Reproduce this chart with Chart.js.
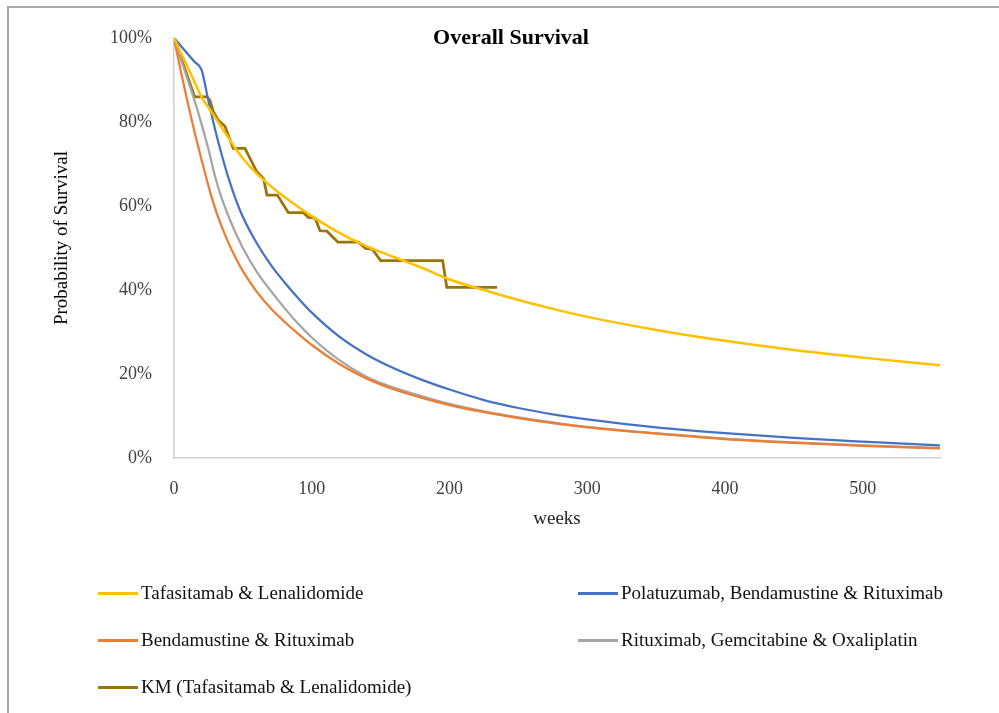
<!DOCTYPE html>
<html>
<head>
<meta charset="utf-8">
<script src="https://cdn.jsdelivr.net/npm/chart.js@4"></script>
<style>
  html, body { margin: 0; padding: 0; background: #fff; }
  #wrap { position: relative; width: 999px; height: 713px; overflow: hidden; }
  #frame { position: absolute; left: 7px; top: 6px; width: 1100px; height: 800px;
           border-left: 2px solid #a8a8a8; border-top: 2px solid #a8a8a8; }
  #chart { position: absolute; left: 0; top: 0; }
  .item { position: absolute; height: 24px; display: flex; align-items: center;
          font: 19px "Liberation Serif", "Times New Roman", serif; color: #111; white-space: nowrap; }
  .item span.swatch { display: inline-block; width: 40px; height: 3px; margin-right: 3px; }
</style>
</head>
<body>
<div id="wrap">
  <div id="frame"></div>
  <canvas id="chart" width="999" height="713"></canvas>
  <div id="legend"></div>
</div>
<script>
// weeks at which the modelled curves were read
const weeks = [0, 5, 10, 15, 20, 25, 30, 35, 40, 45, 50, 60, 70, 80, 90, 100, 120, 140, 160, 180,
               200, 225, 250, 275, 300, 350, 400, 450, 500, 556];

const tafaLen = [100, 96.5, 93, 89.5, 86, 83.5, 81, 78.5, 76, 73.5, 71.3, 67.7, 64.8, 62.2, 59.8, 57.6,
                 53.6, 50.4, 47.8, 45.3, 42.5, 40, 37.6, 35.5, 33.6, 30.5, 27.9, 25.7, 23.9, 22.1];
const polaBR = [100, 98.1, 96.2, 94.3, 92.4, 85, 78, 71.8, 66.2, 61.4, 57.4, 51.2, 46.1, 41.9, 38.1, 34.6,
                28.9, 24.6, 21.3, 18.6, 16.3, 13.8, 11.9, 10.4, 9.2, 7.3, 5.9, 4.8, 3.9, 3.0];
const bendaR = [100, 92, 84.5, 77.5, 71, 64.8, 59.3, 54.8, 50.9, 47.5, 44.5, 39.6, 35.7, 32.5, 29.6, 26.9,
                22.4, 18.9, 16.3, 14.3, 12.6, 10.9, 9.5, 8.3, 7.3, 5.8, 4.5, 3.6, 2.9, 2.3];
const rGemOx = [100, 95, 90, 85, 79.5, 73.5, 66.8, 61.5, 57.2, 53.4, 50, 44.4, 39.9, 35.8, 32, 28.7,
                23.3, 19.3, 16.7, 14.7, 12.9, 11.1, 9.7, 8.5, 7.4, 5.9, 4.6, 3.7, 3.0, 2.4];

// Kaplan-Meier curve (Tafasitamab & Lenalidomide)
const kmWeeks = [0, 15, 24, 26, 28.5, 32, 37, 43, 51.5, 60, 65, 67.5, 75, 83, 94, 97.5, 102.5, 106, 111,
                 119, 134, 139, 144, 150, 195, 198, 234.5];
const kmSurv = [100, 86, 86, 85.2, 82.5, 80.5, 79, 73.7, 73.7, 68.2, 66.5, 62.6, 62.6, 58.4, 58.4, 57.3,
                57.1, 54.1, 54, 51.4, 51.4, 49.9, 49.7, 47, 47, 40.6, 40.6];

const xTicks = [0, 100, 200, 300, 400, 500];
const yTicks = [0, 20, 40, 60, 80, 100];

const toPoints = (xs, ys) => xs.map((x, i) => ({x: x, y: ys[i]}));

function curve(label, values, color, width) {
    return {
        label: label,
        data: toPoints(weeks, values),
        borderColor: color,
        backgroundColor: color,
        borderWidth: width,
        pointRadius: 0,
        cubicInterpolationMode: 'monotone'
    };
}

const datasets = [
    curve('Tafasitamab & Lenalidomide', tafaLen, '#ffc000', 2.5),
    curve('Polatuzumab, Bendamustine & Rituximab', polaBR, '#4472c4', 2.25),
    curve('Bendamustine & Rituximab', bendaR, '#ed7d31', 2.25),
    curve('Rituximab, Gemcitabine & Oxaliplatin', rGemOx, '#a5a5a5', 2.25),
    {
        label: 'KM (Tafasitamab & Lenalidomide)',
        data: toPoints(kmWeeks, kmSurv),
        borderColor: '#9a7409',
        backgroundColor: '#9a7409',
        borderWidth: 2.75,
        pointRadius: 0,
        tension: 0
    }
];

const serif = '"Liberation Serif", "Times New Roman", serif';

// chart title and rotated y label
const textPlugin = {
    id: 'textPlugin',
    afterDraw(chart) {
        const ctx = chart.ctx;
        ctx.save();
        ctx.fillStyle = '#000';
        ctx.textAlign = 'center';
        ctx.textBaseline = 'middle';
        ctx.font = 'bold 22px ' + serif;
        ctx.fillText('Overall Survival', 511, 38);
        ctx.translate(62, 238);
        ctx.rotate(-Math.PI / 2);
        ctx.font = '19px ' + serif;
        ctx.fillText('Probability of Survival', 0, 0);
        ctx.restore();
    }
};

const chart = new Chart(document.getElementById('chart'), {
    type: 'line',
    data: { datasets: datasets },
    options: {
        responsive: false,
        animation: false,
        devicePixelRatio: 1,
        layout: { padding: { left: 0, top: 38, right: 59, bottom: 175 } },
        scales: {
            x: {
                type: 'linear',
                min: 0,
                max: 556,
                afterFit: (s) => { s.height = 80; },
                afterBuildTicks: (s) => { s.ticks = xTicks.map(v => ({value: v})); },
                grid: { display: false, drawTicks: false },
                border: { display: true, color: '#d0d0d0', width: 1.5 },
                ticks: { padding: 20, color: '#404040', font: { family: serif, size: 18 } },
                title: { display: true, text: 'weeks', color: '#222',
                         font: { family: serif, size: 19 }, padding: { top: 0, bottom: 8 } }
            },
            y: {
                min: 0,
                max: 100,
                afterFit: (s) => { s.width = 174; },
                afterBuildTicks: (s) => { s.ticks = yTicks.map(v => ({value: v})); },
                grid: { display: false, drawTicks: false },
                border: { display: true, color: '#d0d0d0', width: 1.5 },
                ticks: { padding: 22, color: '#404040', font: { family: serif, size: 18 },
                         callback: (v) => v + '%' }
            }
        },
        plugins: {
            legend: { display: false },
            tooltip: { enabled: false }
        }
    },
    plugins: [textPlugin]
});

// legend in two columns under the plot
const legendPos = [[98, 593], [578, 593], [98, 640], [578, 640], [98, 687]];
const legendBox = document.getElementById('legend');
chart.data.datasets.forEach((ds, i) => {
    const item = document.createElement('div');
    item.className = 'item';
    item.style.left = legendPos[i][0] + 'px';
    item.style.top = (legendPos[i][1] - 12) + 'px';
    const sw = document.createElement('span');
    sw.className = 'swatch';
    sw.style.background = ds.borderColor;
    item.appendChild(sw);
    item.appendChild(document.createTextNode(ds.label));
    legendBox.appendChild(item);
});
</script>
</body>
</html>
